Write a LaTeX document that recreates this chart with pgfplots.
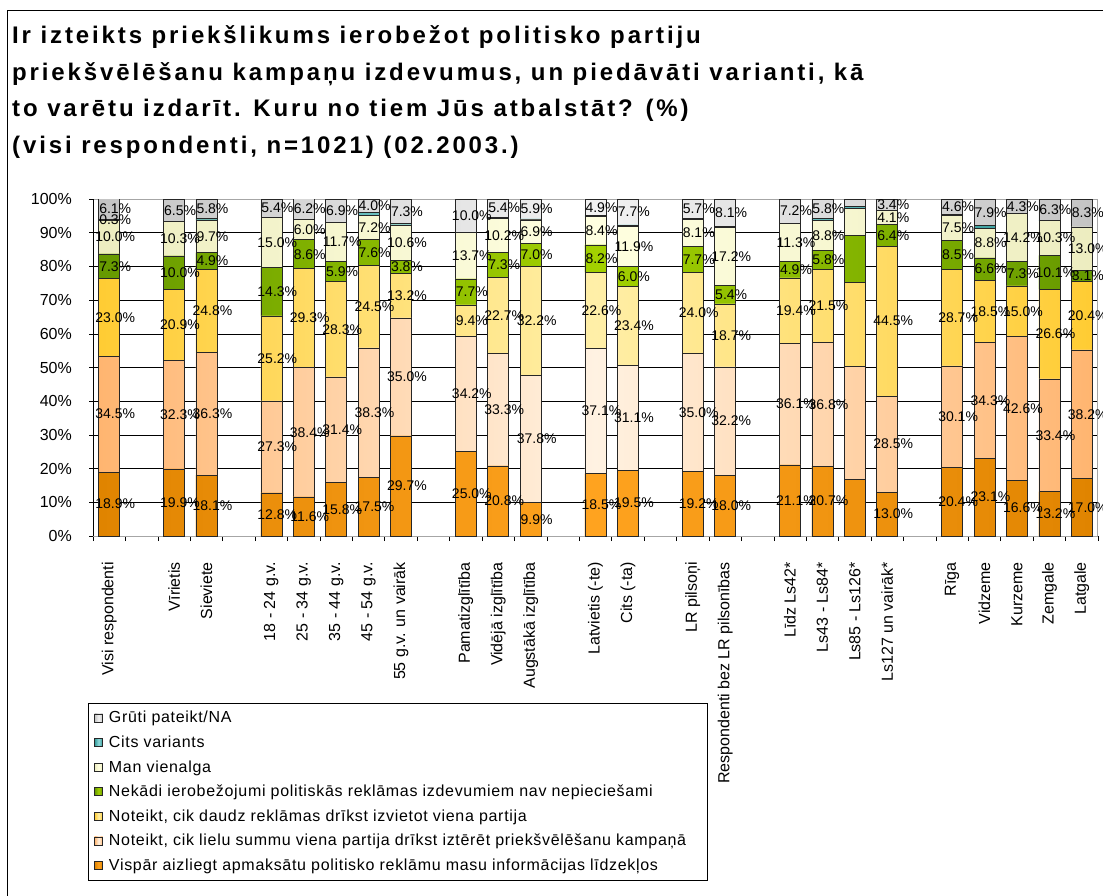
\documentclass[border=0pt]{standalone}
\usepackage{pgfplots}
\pgfplotsset{compat=1.18}
\usepackage{pgfplotstable}
\usepackage{fontspec}
\setmainfont{Liberation Sans}
\newfontfamily\tfont[LetterSpace=12]{Liberation Sans}
\newfontfamily\sfont[LetterSpace=4.3]{Liberation Sans}

\definecolor{orD}{HTML}{E08400}
\definecolor{orL}{HTML}{FFA31F}
\definecolor{peD}{HTML}{FFB570}
\definecolor{peL}{HTML}{FFF2E2}
\definecolor{yeD}{HTML}{FFCC33}
\definecolor{yeL}{HTML}{FFEFA8}
\definecolor{grD}{HTML}{669900}
\definecolor{grL}{HTML}{A3D100}
\definecolor{lyD}{HTML}{EDEDC0}
\definecolor{lyL}{HTML}{FFFFE0}
\definecolor{teD}{HTML}{339999}
\definecolor{teL}{HTML}{8FDADA}
\definecolor{gyD}{HTML}{C4C4C4}
\definecolor{gyL}{HTML}{F2F2F2}

\newcommand\fs{\fontsize{14}{16}\selectfont}
\newcommand\ls{\fontsize{16}{18}\selectfont\sfont}

\pgfplotstableread{
x a b c d e f g fs gs
0 18.9 34.5 23.0 7.3 10.0 0.3 6.1 1 1
2 19.9 32.3 20.9 10.0 10.3 0.0 6.5 0 1
3 18.1 36.3 24.8 4.9 9.7 0.4 5.8 0 1
5 12.8 27.3 25.2 14.3 15.0 0.0 5.4 0 1
6 11.6 38.4 29.3 8.6 6.0 0.0 6.2 0 1
7 15.8 31.4 28.3 5.9 11.7 0.0 6.9 0 1
8 17.5 38.3 24.5 7.6 7.2 0.9 4.0 0 1
9 29.7 35.0 13.2 3.8 10.6 0.4 7.3 0 1
11 25.0 34.2 9.4 7.7 13.7 0.0 10.0 0 1
12 20.8 33.3 22.7 7.3 10.2 0.3 5.4 0 1
13 9.9 37.8 32.2 7.0 6.9 0.3 5.9 0 1
15 18.5 37.1 22.6 8.2 8.4 0.3 4.9 0 1
16 19.5 31.1 23.4 6.0 11.9 0.4 7.7 0 1
18 19.2 35.0 24.0 7.7 8.1 0.3 5.7 0 1
19 18.0 32.2 18.7 5.4 17.2 0.4 8.1 0 1
21 21.1 36.1 19.4 4.9 11.3 0.0 7.2 0 1
22 20.7 36.8 21.5 5.8 8.8 0.6 5.8 0 1
23 16.7 33.7 24.9 13.8 8.1 0.6 2.2 0 0
24 13.0 28.5 44.5 6.4 4.1 0.1 3.4 0 1
26 20.4 30.1 28.7 8.5 7.5 0.2 4.6 0 1
27 23.1 34.3 18.5 6.6 8.8 0.8 7.9 0 1
28 16.6 42.6 15.0 7.3 14.2 0.0 4.3 0 1
29 13.2 33.4 26.6 10.1 10.3 0.1 6.3 0 1
30 17.0 38.2 20.4 3.1 13.0 0.0 8.3 0 1
}\data

\pgfplotsset{
  base/.style={
    scale only axis, width=1005pt, height=337pt,
    at={(93pt,-199pt)}, anchor=north west,
    xmin=-0.5, xmax=30.5, ymin=0, ymax=100,
    ybar stacked, bar width=21pt,
    xtick={0,2,3,5,6,7,8,9,11,12,13,15,16,18,19,21,22,23,24,26,27,28,29,30},
  },
  bars/.style 2 args={fill=#2, draw=black!85, line width=0.6pt,
    left color=#1, right color=#1, middle color=#2},
  labs/.style 2 args={
    visualization depends on={\thisrow{#1} \as \myrawy},
    visualization depends on={\thisrow{#2} \as \myshw},
    nodes near coords={\ifdim\myshw pt>0.5pt \pgfmathprintnumber[fixed,fixed zerofill,precision=1,assume math mode=true]{\myrawy}\%\fi}},
}

\begin{document}
\begin{tikzpicture}
\useasboundingbox (0,0) rectangle (1103pt,-896pt);
\draw[black, line width=1pt] (7pt,-11pt) -- (1103pt,-11pt);
\draw[black, line width=1pt] (7pt,-11pt) -- (7pt,-896pt);
\begin{scope}[font=\fontsize{24}{28}\selectfont\tfont\bfseries]
\node[anchor=base west, inner sep=0pt] at (12pt,-44pt) {Ir izteikts priekšlikums ierobežot politisko partiju};
\node[anchor=base west, inner sep=0pt] at (12pt,-80.5pt) {priekšvēlēšanu kampaņu izdevumus, un piedāvāti varianti, kā};
\node[anchor=base west, inner sep=0pt] at (12pt,-117pt) {to varētu izdarīt. Kuru no tiem Jūs atbalstāt? (\%)};
\node[anchor=base west, inner sep=0pt] at (12pt,-153.5pt) {(visi respondenti, n=1021) (02.2003.)};
\end{scope}

\begin{axis}[base,
  axis line style={draw=gray!70, line width=1pt},
  ytick={0,10,...,90}, extra y ticks={100}, extra y tick style={grid=none},
  ymajorgrids, grid style={black, line width=0.6pt},
  /pgf/number format/assume math mode=true,
  yticklabel={\pgfmathprintnumber{\tick}\%},
  yticklabel style={font=\fontsize{16}{18}\selectfont, inner sep=0pt, xshift=-17pt},
  xticklabels={Visi respondenti,Vīrietis,Sieviete,18 - 24 g.v.,25 - 34 g.v.,35 - 44 g.v.,45 - 54 g.v.,55 g.v. un vairāk,Pamatizglītība,Vidējā izglītība,Augstākā izglītība,Latvietis (-te),Cits (-ta),LR pilsoņi,Respondenti bez LR pilsonības,Līdz Ls42*,Ls43 - Ls84*,Ls85 - Ls126*,Ls127 un vairāk*,Rīga,Vidzeme,Kurzeme,Zemgale,Latgale},
  xticklabel style={rotate=90, anchor=east, inner sep=0pt, font=\fontsize{16}{18}\selectfont, xshift=-22pt},
  tickpos=left, tick align=outside,
  major x tick style={draw=none},
  minor xtick={-0.5,0.5,...,30.5},
  minor tick length=5pt, major tick length=4pt,
  every tick/.style={black, line width=0.6pt},
  legend cell align=left,
  reverse legend,
  legend style={at={(-0.005,-0.4955)}, anchor=north west, draw=black, line width=0.8pt,
    font=\ls, row sep=7.6pt, inner xsep=6pt, inner ysep=6pt,
    /tikz/every odd column/.append style={column sep=4pt},
    /tikz/every even column/.append style={text height=11.5pt, text depth=3.5pt}},
  legend image code/.code={\draw[#1, line width=0.6pt] (0pt,-4pt) rectangle (8pt,4pt);},
]
\addplot[bars={orD}{orL}] table[x=x,y=a]{\data};
\addlegendentry{Vispār aizliegt apmaksātu politisko reklāmu masu informācijas līdzekļos}
\addplot[bars={peD}{peL}] table[x=x,y=b]{\data};
\addlegendentry{Noteikt, cik lielu summu viena partija drīkst iztērēt priekšvēlēšanu kampaņā\hspace*{13pt}}
\addplot[bars={yeD}{yeL}] table[x=x,y=c]{\data};
\addlegendentry{Noteikt, cik daudz reklāmas drīkst izvietot viena partija}
\addplot[bars={grD}{grL}] table[x=x,y=d]{\data};
\addlegendentry{Nekādi ierobežojumi politiskās reklāmas izdevumiem nav nepieciešami}
\addplot[bars={lyD}{lyL}] table[x=x,y=e]{\data};
\addlegendentry{Man vienalga}
\addplot[bars={teD}{teL}] table[x=x,y=f]{\data};
\addlegendentry{Cits variants}
\addplot[bars={gyD}{gyL}] table[x=x,y=g]{\data};
\addlegendentry{Grūti pateikt/NA}
\draw[black, line width=0.8pt] (rel axis cs:0,0) -- (rel axis cs:0,1);
\end{axis}

\begin{axis}[base, hide axis, clip=false,
  every node near coord/.style={font=\fs, inner sep=0pt, anchor=center, black, xshift=6pt}]
\addplot[draw=none, fill=none, labs={a}{gs}] table[x=x,y=a]{\data};
\addplot[draw=none, fill=none, labs={b}{gs}] table[x=x,y=b]{\data};
\addplot[draw=none, fill=none, labs={c}{gs}] table[x=x,y=c]{\data};
\addplot[draw=none, fill=none, labs={d}{gs}] table[x=x,y=d]{\data};
\addplot[draw=none, fill=none, labs={e}{gs}] table[x=x,y=e]{\data};
\addplot[draw=none, fill=none, labs={f}{fs}] table[x=x,y=f]{\data};
\addplot[draw=none, fill=none, labs={g}{gs}] table[x=x,y=g]{\data};
\end{axis}
\end{tikzpicture}
\end{document}
